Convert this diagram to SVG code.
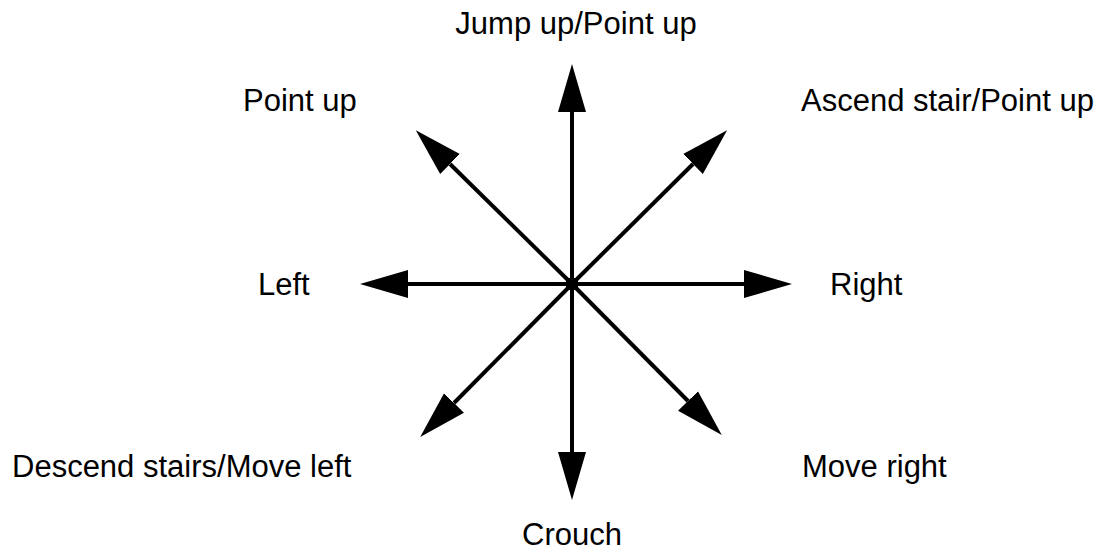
<svg xmlns="http://www.w3.org/2000/svg" width="1107" height="556" viewBox="0 0 1107 556">
<style>
.lbl{font-family:"Liberation Sans",Arial,sans-serif;font-size:31px;fill:#000}
.ln{stroke:#000;stroke-width:4;fill:none;marker-end:url(#ah)}
</style>
<defs>
<marker id="ah" viewBox="0 -15 50 30" markerWidth="50" markerHeight="30" refX="0" refY="0" orient="auto" markerUnits="userSpaceOnUse">
<path d="M0,-14 L48,0 L0,14 Z" fill="#000"/>
</marker>
</defs>
<rect width="1107" height="556" fill="#fff"/>
<g id="connectors">
<line class="ln" x1="572" y1="284" x2="572" y2="112"/>
<line class="ln" x1="572" y1="284" x2="572" y2="452"/>
<line class="ln" x1="572" y1="284" x2="408" y2="284"/>
<line class="ln" x1="572" y1="284" x2="744" y2="284"/>
<line class="ln" x1="572" y1="284" x2="693" y2="164"/>
<line class="ln" x1="572" y1="284" x2="450" y2="164"/>
<line class="ln" x1="572" y1="284" x2="454" y2="403"/>
<line class="ln" x1="572" y1="284" x2="688" y2="401"/>
</g>
<g id="center"><rect x="566" y="278" width="12" height="12" fill="#000"/></g>
<g id="n-up"><text class="lbl" x="576" y="34" text-anchor="middle">Jump up/Point up</text></g>
<g id="n-ul"><text class="lbl" x="243" y="111">Point up</text></g>
<g id="n-ur"><text class="lbl" x="801" y="111">Ascend stair/Point up</text></g>
<g id="n-left"><text class="lbl" x="258" y="295">Left</text></g>
<g id="n-right"><text class="lbl" x="830" y="295">Right</text></g>
<g id="n-dl"><text class="lbl" x="12" y="477">Descend stairs/Move left</text></g>
<g id="n-dr"><text class="lbl" x="802" y="477">Move right</text></g>
<g id="n-down"><text class="lbl" x="572" y="545" text-anchor="middle">Crouch</text></g>
</svg>
